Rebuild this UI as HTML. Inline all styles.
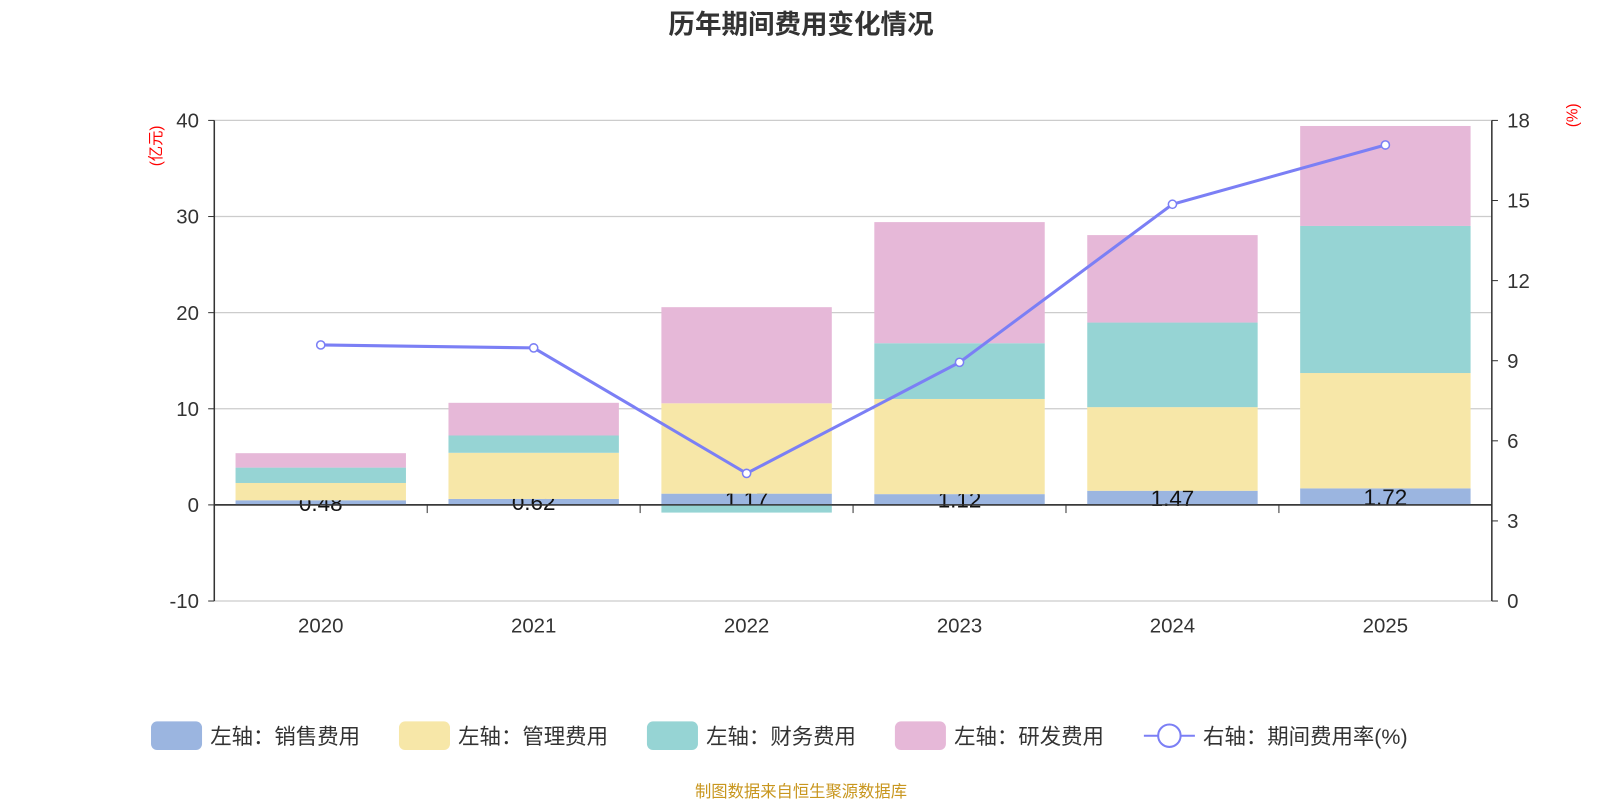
<!DOCTYPE html>
<html><head><meta charset="utf-8"><style>
body{margin:0;background:#fff;}
svg{font-family:"Liberation Sans","Noto Sans CJK SC",sans-serif;display:block;}
</style></head><body>
<svg id="c" width="1600" height="800" viewBox="0 0 1568 784" xmlns="http://www.w3.org/2000/svg">
<text x="785" y="33" text-anchor="middle" font-size="26" font-weight="bold" fill="#333">历年期间费用变化情况</text>
<text x="0" y="0" transform="translate(158,143) rotate(-90)" text-anchor="middle" font-size="15" fill="red">(亿元)</text>
<text x="0" y="0" transform="translate(1546,113) rotate(-90)" text-anchor="middle" font-size="15" fill="red">(%)</text>
<text x="785" y="781" text-anchor="middle" font-size="16" fill="#c8961e">制图数据来自恒生聚源数据库</text>
<g id="grid"></g><g id="bars"></g><g id="axes"></g><g id="line"></g><g id="legend"></g>
</svg>
<script>
const categories=["2020","2021","2022","2023","2024","2025"];
const sales=[0.48,0.62,1.17,1.12,1.47,1.72];
const mgmt=[1.8,4.8,9.4,9.9,8.7,12.0];
const finance=[1.6,1.8,-0.8,5.8,8.8,15.3];
const rnd=[1.5,3.4,10.0,12.6,9.1,10.4];
const rate=[9.59,9.48,4.78,8.94,14.86,17.08];
const leftTicks=[-10,0,10,20,30,40];
const rightTicks=[0,3,6,9,12,15,18];
const NS="http://www.w3.org/2000/svg";
const X0=210,X1=1462,YT=118,YB=589;
const yL=v=>YB-(v+10)/50*(YB-YT);
const yR=v=>YB-v/18*(YB-YT);
const band=(X1-X0)/categories.length;
const xC=i=>X0+band*(i+0.5);
const BW=167;
function mk(t,a,p){const e=document.createElementNS(NS,t);for(const k in a)e.setAttribute(k,a[k]);document.getElementById(p).appendChild(e);return e;}
leftTicks.forEach(v=>{
 const g=mk('line',{x1:X0,x2:X1,y1:yL(v),y2:yL(v),stroke:v===0?'#333':'#ccc','stroke-width':v===0?1.5:1.2},'grid');
 
 
 const t=mk('text',{x:X0-15,y:yL(v)+7,'text-anchor':'end','font-size':20,fill:'#333'},'axes');t.textContent=v;
 
 
 mk('line',{x1:X0-6,x2:X0,y1:yL(v),y2:yL(v),stroke:'#333'},'axes');
});
rightTicks.forEach(v=>{
 const t=mk('text',{x:X1+15,y:yR(v)+7,'font-size':20,fill:'#333'},'axes');t.textContent=v;
 
 
 mk('line',{x1:X1,x2:X1+6,y1:yR(v),y2:yR(v),stroke:'#333'},'axes');
});
mk('line',{x1:X0,x2:X0,y1:YT,y2:YB,stroke:'#333','stroke-width':1.5},'axes');
mk('line',{x1:X1,x2:X1,y1:YT,y2:YB,stroke:'#333','stroke-width':1.5},'axes');
mk('line',{x1:X0,x2:X1,y1:yL(0),y2:yL(0),stroke:'#333','stroke-width':1.5},'axes');
for(let i=0;i<=categories.length;i++)mk('line',{x1:X0+band*i,x2:X0+band*i,y1:yL(0),y2:yL(0)+8,stroke:'#333'},'axes');
categories.forEach((c,i)=>{const t=mk('text',{x:xC(i),y:620,'text-anchor':'middle','font-size':20,fill:'#333'},'axes');t.textContent=c;
 
 });
const series=[[sales,'#9bb5e0','sales'],[mgmt,'#f7e7a8','mgmt'],[finance,'#96d4d4','finance'],[rnd,'#e6b8d8','rnd']];
categories.forEach((c,i)=>{
 let pos=0,neg=0;
 series.forEach(([arr,col,nm],k)=>{
  const v=arr[i];let a,b;
  if(v>=0){a=pos;b=pos+v;pos=b;}else{a=neg;b=neg+v;neg=b;}
  const r=mk('rect',{x:xC(i)-BW/2,width:BW,y:Math.min(yL(a),yL(b)),height:Math.abs(yL(a)-yL(b)),fill:col},'bars');
  
  
  if(k===0){const t=mk('text',{x:xC(i),y:(yL(a)+yL(b))/2+8,'text-anchor':'middle','font-size':22,fill:'#111'},'bars');t.textContent=v.toFixed(2);
   
   }
 });
});
const pl=mk('polyline',{points:rate.map((v,i)=>xC(i)+','+yR(v)).join(' '),fill:'none',stroke:'#7b7ff5','stroke-width':3},'line');


rate.forEach((v,i)=>{const p=mk('circle',{cx:xC(i),cy:yR(v),r:4,fill:'#fff',stroke:'#7b7ff5','stroke-width':1.5},'line');
 
 });
const leg=[['左轴：销售费用','#9bb5e0',148],['左轴：管理费用','#f7e7a8',391],['左轴：财务费用','#96d4d4',634],['左轴：研发费用','#e6b8d8',877]];
leg.forEach(([t,c,x])=>{
 const r=mk('rect',{x:x,y:707,width:50,height:28,rx:6,fill:c},'legend');
 
 
 const s=mk('text',{x:x+58,y:729,'font-size':21,fill:'#333'},'legend');s.textContent=t;
 
 
});
mk('line',{x1:1121,x2:1171,y1:721,y2:721,stroke:'#7b7ff5','stroke-width':2},'legend');
mk('circle',{cx:1146,cy:721,r:11,fill:'#fff',stroke:'#7b7ff5','stroke-width':2},'legend');
const lt=mk('text',{x:1179,y:729,'font-size':21,fill:'#333'},'legend');lt.textContent='右轴：期间费用率(%)';


</script>
</body></html>
